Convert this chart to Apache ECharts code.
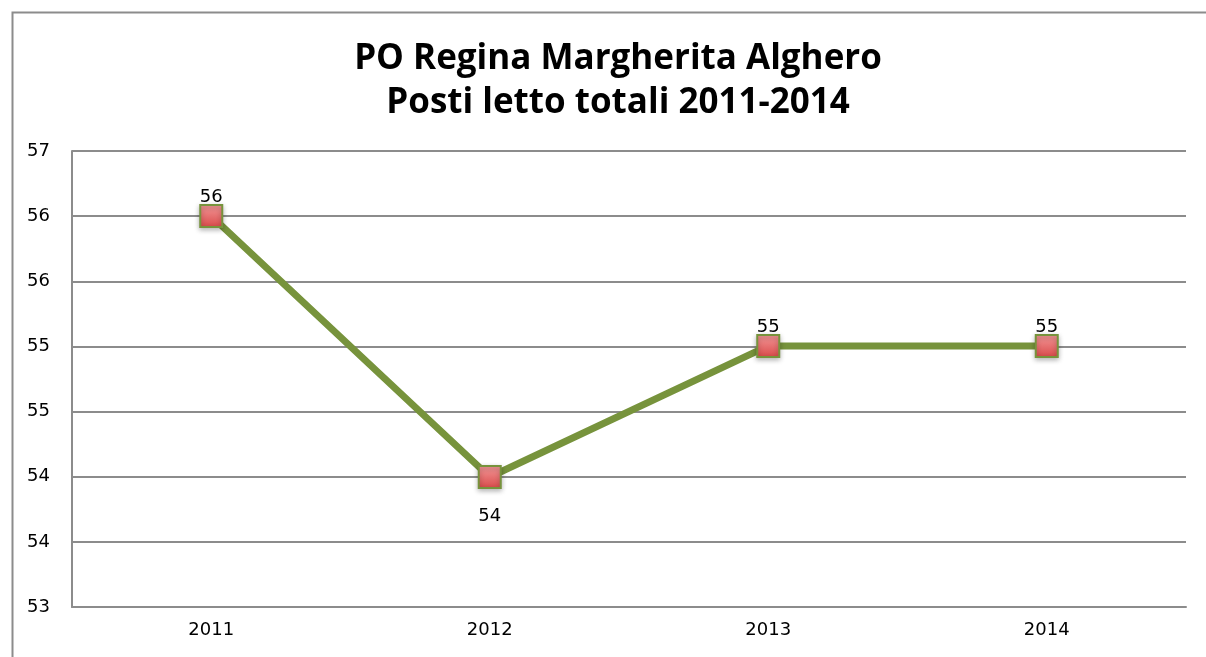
<!DOCTYPE html>
<html>
<head>
<meta charset="utf-8">
<script src="https://cdn.jsdelivr.net/npm/echarts@6/dist/echarts.min.js"></script>
<style>
  html, body { margin: 0; padding: 0; background: #fff; }
  #chart { width: 1206px; height: 657px; }
</style>
</head>
<body>
<div id="chart"></div>
<script>
const years = ['2011', '2012', '2013', '2014']
const beds = [56.43, 54.14, 55.29, 55.29]
const labelSide = ['top', 'bottom', 'top', 'top']
const labelGap = [-2, 18, -2, -2]
const yMin = 53, yMax = 57, yStep = 4 / 7

const chart = echarts.init(document.getElementById('chart'))
chart.setOption({
  backgroundColor: '#fff',
  animation: false,
  graphic: [{
    type: 'rect', left: 10, top: 10, z: -1,
    shape: { width: 1220, height: 680 },
    style: { fill: 'none', stroke: '#8c8c8c', lineWidth: 2 }
  }],
  title: {
    text: 'PO Regina Margherita Alghero\nPosti letto totali 2011-2014',
    left: 613, top: 32, textAlign: 'center',
    textStyle: { fontFamily: 'Open Sans', fontWeight: 'bold', fontSize: 35, lineHeight: 44, color: '#000' }
  },
  grid: { left: 72, right: 20, top: 151, bottom: 50 },
  xAxis: {
    type: 'category', data: years, boundaryGap: true,
    axisLine: { lineStyle: { color: '#8c8c8c', width: 2 } },
    axisTick: { show: false },
    axisLabel: { color: '#000', fontFamily: 'DejaVu Sans', fontSize: 18, margin: 14 }
  },
  yAxis: {
    type: 'value', min: yMin, max: yMax, interval: yStep,
    axisLine: { show: true, lineStyle: { color: '#8c8c8c', width: 2 } },
    axisTick: { show: false },
    splitLine: { lineStyle: { color: '#8c8c8c', width: 2 } },
    axisLabel: {
      color: '#000', fontFamily: 'DejaVu Sans', fontSize: 18, margin: 45, align: 'left',
      formatter: v => Math.round(v)
    }
  },
  series: [{
    type: 'line',
    data: beds.map((v, i) => ({ value: v, label: { position: labelSide[i], distance: labelGap[i] } })),
    lineStyle: { color: '#77933c', width: 7 },
    symbol: 'rect', symbolSize: 22,
    itemStyle: {
      color: new echarts.graphic.LinearGradient(0, 0, 0, 1, [
        { offset: 0, color: '#f49a9a' }, { offset: 1, color: '#d84848' }
      ]),
      borderColor: '#77933c', borderWidth: 2,
      shadowColor: 'rgba(0,0,0,0.3)', shadowBlur: 5, shadowOffsetY: 2
    },
    label: {
      show: true, color: '#000', fontFamily: 'DejaVu Sans', fontSize: 18,
      formatter: p => Math.round(p.value)
    }
  }]
})
</script>
</body>
</html>
